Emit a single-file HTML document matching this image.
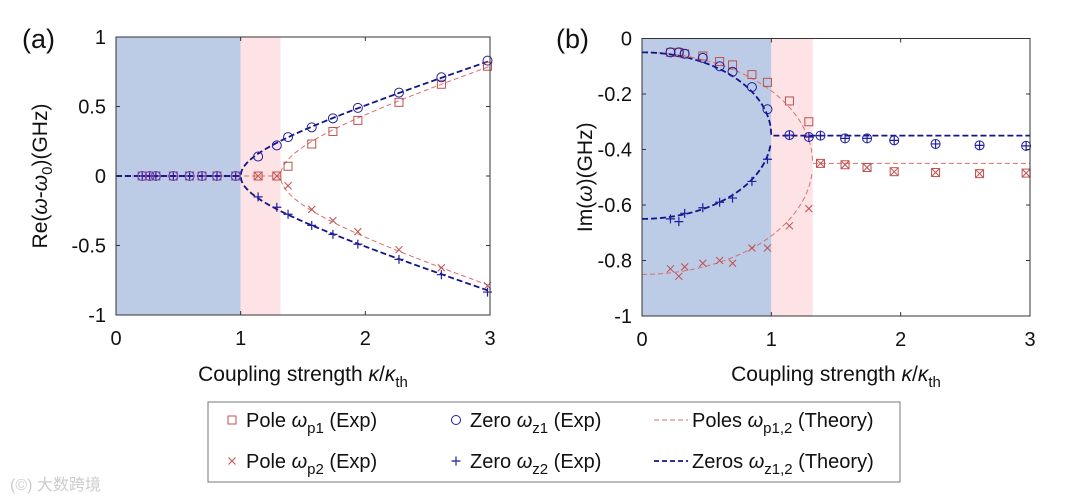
<!DOCTYPE html>
<html><head><meta charset="utf-8">
<style>
body{margin:0;background:#fff;}
svg{display:block;font-family:"Liberation Sans",Arial,sans-serif;}
</style></head>
<body>
<svg id="chart" width="1080" height="500" viewBox="0 0 1080 500">
<g id="pa"></g>
<g id="pb"></g>
<g id="legend"></g>
<text x="10" y="490" font-size="16" fill="#ccc" font-family="'Liberation Sans','Noto Sans CJK SC',sans-serif">(©) 大数跨境</text>
</svg>
<script>
// ---- shared data ----
const kBlue = [0.21,0.27,0.32,0.46,0.59,0.69,0.81,0.96];
const kRight = [1.14,1.29,1.38,1.57,1.74,1.94,2.27,2.61,2.98];
// Panel a (Re)
const aZeroBlue = [0,0,0,0,0,0,0,0];
const aZ1 = [0.14,0.22,0.28,0.35,0.415,0.49,0.60,0.71,0.83];
const aZ2 = [-0.15,-0.225,-0.275,-0.355,-0.42,-0.49,-0.60,-0.71,-0.835];
const aP1 = [0,0,0.07,0.23,0.32,0.40,0.53,0.66,0.79];
const aP2 = [0,0,-0.07,-0.24,-0.32,-0.40,-0.53,-0.66,-0.79];
// Panel b (Im)
const kB = [0.22,0.285,0.33,0.47,0.6,0.7,0.85,0.97];
const kBR = [1.14,1.29,1.38,1.57,1.74,1.95,2.27,2.61,2.97];
const bZ1L = [-0.05,-0.05,-0.055,-0.07,-0.10,-0.12,-0.175,-0.255];
const bZ2L = [-0.65,-0.66,-0.63,-0.61,-0.59,-0.575,-0.515,-0.435];
const bP1L = [-0.05,-0.05,-0.055,-0.063,-0.083,-0.095,-0.13,-0.158];
const bP2L = [-0.83,-0.857,-0.823,-0.81,-0.80,-0.81,-0.755,-0.755];
const bZR = [-0.348,-0.355,-0.35,-0.36,-0.36,-0.367,-0.38,-0.385,-0.387];
const bPR = [-0.225,-0.30,-0.45,-0.455,-0.465,-0.48,-0.483,-0.487,-0.485];
const bP2R = [-0.675,-0.613];
// theory parameters
const kth = 1, kp = 1.32, reScale = 0.293;
const imZc = -0.35, imZr = 0.30, imPc = -0.45, imPr = 0.40;
const xTicks = [0,1,2,3];
const aYTicks = [-1,-0.5,0,0.5,1];
const aYLabels = ['-1','-0.5','0','0.5','1'];
const bYTicks = [-1,-0.8,-0.6,-0.4,-0.2,0];
const bYLabels = ['-1','-0.8','-0.6','-0.4','-0.2','0'];

const NS='http://www.w3.org/2000/svg';
function mk(parent,tag,attrs,text){const e=document.createElementNS(NS,tag);for(const k in attrs)e.setAttribute(k,attrs[k]);if(text!==undefined)e.textContent=text;parent.appendChild(e);return e;}
const RED='#c0504d', BLUE='#1f1f9f', DBLUE='#14148a';

function marker(g,type,x,y,col){
  let e;
  if(type==='sq'){e=mk(g,'rect',{x:x-4,y:y-4,width:8,height:8,fill:'none',stroke:col,'stroke-width':1});}
  else if(type==='o'){e=mk(g,'circle',{cx:x,cy:y,r:4.5,fill:'none',stroke:col,'stroke-width':1});}
  else if(type==='x'){e=mk(g,'path',{d:`M${x-3.5},${y-3.5}L${x+3.5},${y+3.5}M${x-3.5},${y+3.5}L${x+3.5},${y-3.5}`,stroke:col,'stroke-width':1});}
  else {e=mk(g,'path',{d:`M${x-4.5},${y}L${x+4.5},${y}M${x},${y-4.5}L${x},${y+4.5}`,stroke:col,'stroke-width':1.2});}
  
  
}

function panel(g,L,R,T,B,yMin,yMax,yTicks,yLabels,label,ytitle,series,theory){
  const xs=v=>L+(v-0)/3*(R-L), ys=v=>B-(v-yMin)/(yMax-yMin)*(B-T);
  const bg=mk(g,'rect',{x:xs(0),y:T,width:xs(1)-xs(0),height:B-T,fill:'#bccbe6'});
  
  const pk=mk(g,'rect',{x:xs(1),y:T,width:xs(kp)-xs(1),height:B-T,fill:'#fde3e6'});
  
  theory.forEach(t=>{
    let d='';let pen=false;
    for(let i=0;i<=600;i++){const k=i/200;const v=t.f(k);if(v===null){pen=false;continue;}d+=(pen?'L':'M')+xs(k).toFixed(2)+','+ys(v).toFixed(2);pen=true;}
    const p=mk(g,'path',{d:d,fill:'none',stroke:t.c,'stroke-width':t.w,'stroke-dasharray':t.da});
    
  });
  series.forEach(s=>{s.k.forEach((k,i)=>marker(g,s.t,xs(k),ys(s.v[i]),s.c));});
  const box=mk(g,'rect',{x:L,y:T,width:R-L,height:B-T,fill:'none',stroke:'#333','stroke-width':1});
  
  xTicks.forEach(t=>{
    mk(g,'line',{x1:xs(t),x2:xs(t),y1:B,y2:B-4,stroke:'#333'});mk(g,'line',{x1:xs(t),x2:xs(t),y1:T,y2:T+4,stroke:'#333'});
    const tl=mk(g,'text',{x:xs(t),y:B+30,'font-size':20,'text-anchor':'middle',fill:'#111'},String(t));
    
  });
  yTicks.forEach((t,i)=>{
    mk(g,'line',{x1:L,x2:L+4,y1:ys(t),y2:ys(t),stroke:'#333'});mk(g,'line',{x1:R,x2:R-4,y1:ys(t),y2:ys(t),stroke:'#333'});
    const tl=mk(g,'text',{x:L-10,y:ys(t)+7,'font-size':20,'text-anchor':'end',fill:'#111'},yLabels[i]);
    
  });
  const pl=mk(g,'text',{x:label.x,y:48,'font-size':27,fill:'#111'},label.t);
  
  const xt=mk(g,'text',{x:(L+R)/2,y:381,'font-size':21,'text-anchor':'middle',fill:'#111'});
  
  xt.innerHTML='Coupling strength <tspan font-style="italic">κ</tspan>/<tspan font-style="italic">κ</tspan><tspan font-size="15" dy="6">th</tspan>';
  const yt=mk(g,'text',{transform:`translate(${ytitle.x},${(T+B)/2}) rotate(-90)`,'font-size':21,'text-anchor':'middle',fill:'#111'});
  
  yt.innerHTML=ytitle.h;
}

const sq=Math.sqrt;
panel(document.getElementById('pa'),116,490,37,315,-1,1,aYTicks,aYLabels,{x:22,t:'(a)'},
 {x:47,h:'Re(<tspan font-style="italic">ω</tspan>-<tspan font-style="italic">ω</tspan><tspan font-size="15" dy="5">0</tspan><tspan dy="-5">)(GHz)</tspan>'},
 [{k:kBlue,v:aZeroBlue,t:'o',c:BLUE},{k:kBlue,v:aZeroBlue,t:'+',c:BLUE},{k:kBlue,v:aZeroBlue,t:'sq',c:'#9a4aa0'},
  {k:kRight,v:aP1,t:'sq',c:RED},{k:kRight,v:aP2,t:'x',c:RED},{k:kRight,v:aZ1,t:'o',c:BLUE},{k:kRight,v:aZ2,t:'+',c:BLUE}],
 [{n:'poles-theory-upper',c:'#d9706b',w:1,da:'5,3',f:k=>k<kp?0:reScale*sq(k*k-kp*kp)},
  {n:'poles-theory-lower',c:'#d9706b',w:1,da:'5,3',f:k=>k<kp?0:-reScale*sq(k*k-kp*kp)},
  {n:'zeros-theory-upper',c:DBLUE,w:1.8,da:'6,3',f:k=>k<kth?0:reScale*sq(k*k-kth*kth)},
  {n:'zeros-theory-lower',c:DBLUE,w:1.8,da:'6,3',f:k=>k<kth?0:-reScale*sq(k*k-kth*kth)}]);

panel(document.getElementById('pb'),642,1030,38.5,316,-1,0,bYTicks,bYLabels,{x:556,t:'(b)'},
 {x:592,h:'Im(<tspan font-style="italic">ω</tspan>)(GHz)'},
 [{k:kB,v:bP1L,t:'sq',c:RED},{k:kB,v:bP2L,t:'x',c:RED},{k:kB,v:bZ1L,t:'o',c:BLUE},{k:kB,v:bZ2L,t:'+',c:BLUE},
  {k:kBR,v:bZR,t:'o',c:BLUE},{k:kBR,v:bZR,t:'+',c:BLUE},{k:kBR,v:bPR,t:'sq',c:RED},
  {k:kBR.slice(0,2),v:bP2R,t:'x',c:RED},{k:kBR.slice(2),v:bPR.slice(2),t:'x',c:RED}],
 [{n:'poles-theory-upper',c:'#d9706b',w:1,da:'5,3',f:k=>k<kp?imPc+imPr*sq(1-(k/kp)**2):imPc},
  {n:'poles-theory-lower',c:'#d9706b',w:1,da:'5,3',f:k=>k<kp?imPc-imPr*sq(1-(k/kp)**2):null},
  {n:'zeros-theory-upper',c:DBLUE,w:1.8,da:'6,3',f:k=>k<kth?imZc+imZr*sq(1-(k/kth)**2):imZc},
  {n:'zeros-theory-lower',c:DBLUE,w:1.8,da:'6,3',f:k=>k<kth?imZc-imZr*sq(1-(k/kth)**2):null}]);

// legend
const lg=document.getElementById('legend');
const lb=mk(lg,'rect',{x:208,y:402,width:692,height:80,fill:'#fff',stroke:'#777','stroke-width':1});

const entries=[
 {x:228,y:427,t:'sq',c:RED,h:'Pole <tspan font-style="italic">ω</tspan><tspan font-size="15" dy="6">p1</tspan><tspan dy="-6"> (Exp)</tspan>'},
 {x:452,y:427,t:'o',c:BLUE,h:'Zero <tspan font-style="italic">ω</tspan><tspan font-size="15" dy="6">z1</tspan><tspan dy="-6"> (Exp)</tspan>'},
 {x:228,y:468,t:'x',c:RED,h:'Pole <tspan font-style="italic">ω</tspan><tspan font-size="15" dy="6">p2</tspan><tspan dy="-6"> (Exp)</tspan>'},
 {x:452,y:468,t:'+',c:BLUE,h:'Zero <tspan font-style="italic">ω</tspan><tspan font-size="15" dy="6">z2</tspan><tspan dy="-6"> (Exp)</tspan>'},
 {x:658,y:427,t:'line',c:'#d9706b',h:'Poles <tspan font-style="italic">ω</tspan><tspan font-size="15" dy="6">p1,2</tspan><tspan dy="-6"> (Theory)</tspan>'},
 {x:658,y:468,t:'line',c:DBLUE,h:'Zeros <tspan font-style="italic">ω</tspan><tspan font-size="15" dy="6">z1,2</tspan><tspan dy="-6"> (Theory)</tspan>'}];
entries.forEach(e=>{
  const g=mk(lg,'g',{});
  
  let tx;
  if(e.t==='line'){mk(g,'line',{x1:e.x-4,x2:e.x+30,y1:e.y-7,y2:e.y-7,stroke:e.c,'stroke-width':e.c===DBLUE?1.8:1,'stroke-dasharray':'5,3'});tx=e.x+34;}
  else{marker(g,e.t,e.x+4,e.y-7,e.c);tx=e.x+18;}
  const t=mk(g,'text',{x:tx,y:e.y,'font-size':20,fill:'#111'});t.innerHTML=e.h;
});
</script>
</body></html>
